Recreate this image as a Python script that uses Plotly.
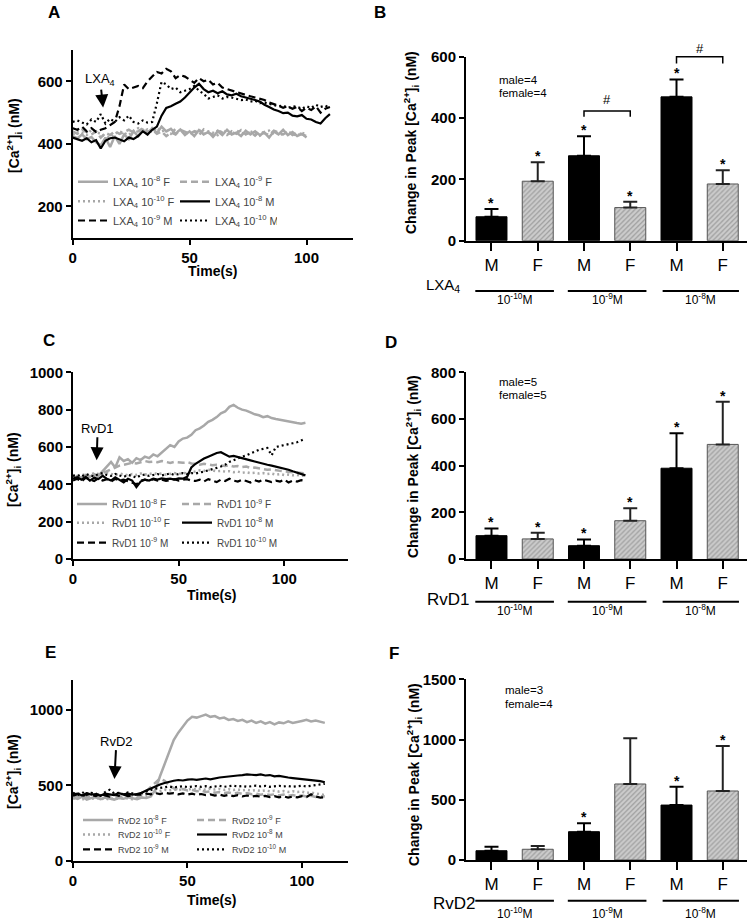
import plotly.graph_objects as go

W, H = 749, 922
FONT = "Liberation Sans, Arial, Helvetica, sans-serif"

# ---------------- Panel A: LXA4 time courses ----------------
tA_F = list(range(0, 101, 2))
tA_M = list(range(0, 111, 2))
A_F8 = [425, 418, 430, 415, 422, 405, 395, 420, 390, 425, 400, 430, 415, 440, 425, 445, 430, 450, 435, 455,
        440, 448, 432, 446, 428, 440, 425, 444, 430, 438, 422, 440, 428, 445, 430, 436, 425, 442, 430, 440,
        428, 436, 420, 440, 430, 445, 428, 438, 425, 432, 420]
A_F9 = [440, 432, 445, 438, 430, 440, 420, 435, 428, 440, 432, 438, 445, 436, 440, 450, 438, 446, 432, 440,
        425, 436, 430, 445, 438, 432, 440, 428, 446, 435, 430, 442, 436, 428, 440, 432, 444, 430, 438, 426,
        440, 434, 428, 442, 436, 430, 440, 428, 436, 430, 425]
A_F10 = [430, 440, 435, 428, 445, 438, 430, 425, 420, 432, 440, 435, 428, 442, 450, 440, 446, 438, 452, 440,
         445, 432, 448, 436, 440, 430, 438, 445, 432, 440, 436, 428, 444, 438, 430, 442, 436, 430, 440, 434,
         426, 438, 442, 430, 436, 428, 440, 432, 426, 436, 430]
A_M8 = [420, 415, 410, 418, 405, 412, 385, 410, 418, 420, 415, 408, 420, 415, 425, 440, 430, 445, 455, 490,
        515, 520, 528, 535, 548, 565, 580, 592, 575, 565, 570, 562, 568, 558, 555, 560, 552, 548, 545, 540,
        535, 525, 518, 510, 505, 498, 500, 490, 488, 492, 480, 478, 470, 465, 482, 495]
A_M9 = [450, 445, 455, 440, 450, 438, 445, 450, 460, 470, 520, 590, 575, 580, 585, 578, 600, 615, 630, 625,
        640, 632, 610, 620, 615, 605, 595, 610, 600, 605, 590, 595, 580, 575, 570, 565, 560, 555, 552, 548,
        545, 540, 532, 528, 522, 515, 520, 512, 518, 505, 515, 508, 520, 500, 512, 518]
A_M10 = [470, 475, 468, 462, 478, 470, 495, 465, 480, 470, 485, 475, 490, 470, 465, 475, 468, 470, 530, 598,
         590, 575, 580, 565, 570, 575, 585, 570, 560, 545, 550, 555, 545, 550, 548, 545, 540, 542, 535, 538,
         530, 532, 528, 525, 520, 522, 515, 520, 518, 512, 520, 515, 525, 518, 522, 515]

# ---------------- Panel C: RvD1 time courses ----------------
tC = list(range(0, 111, 2))
C_F8 = [430, 445, 435, 450, 440, 455, 445, 470, 500, 520, 490, 545, 525, 535, 515, 540, 530, 548, 540, 560,
        550, 570, 590, 610, 600, 630, 645, 650, 665, 690, 700, 715, 735, 745, 760, 780, 790, 815, 825, 810,
        800, 795, 785, 775, 770, 760, 765, 755, 750, 745, 740, 735, 730, 728, 725, 730]
C_F9 = [440, 430, 445, 435, 440, 445, 450, 460, 470, 480, 490, 500, 505, 510, 515, 512, 520, 525, 520, 522,
        518, 525, 520, 515, 520, 518, 515, 520, 512, 510, 505, 510, 508, 502, 505, 500, 498, 502, 495, 498,
        492, 495, 488, 490, 485, 482, 478, 480, 475, 472, 470, 468, 465, 462, 460, 458]
C_F10 = [450, 445, 455, 448, 452, 460, 455, 450, 462, 455, 450, 458, 452, 448, 455, 450, 458, 452, 455, 460,
         455, 458, 452, 456, 460, 455, 462, 458, 465, 470, 475, 472, 478, 475, 470, 472, 468, 470, 465, 468,
         462, 465, 460, 462, 458, 460, 455, 458, 452, 455, 450, 452, 448, 450, 446, 448]
C_M8 = [430, 438, 425, 440, 420, 435, 428, 445, 430, 420, 438, 425, 410, 430, 420, 385, 415, 425, 420, 430,
        425, 432, 428, 430, 425, 432, 430, 440, 490, 510, 525, 538, 548, 560, 568, 572, 560, 548, 552, 545,
        538, 535, 528, 522, 515, 510, 505, 500, 495, 490, 485, 478, 470, 462, 455, 448]
C_M9 = [420, 430, 415, 435, 425, 418, 432, 420, 428, 415, 430, 420, 425, 418, 410, 400, 420, 425, 418, 428,
        420, 425, 418, 422, 428, 420, 425, 428, 420, 418, 425, 415, 428, 420, 412, 425, 418, 430, 420, 415,
        425, 418, 410, 422, 415, 425, 418, 412, 420, 415, 425, 410, 420, 415, 422, 418]
C_M10 = [445, 450, 440, 455, 448, 442, 455, 460, 450, 445, 455, 448, 440, 450, 445, 435, 448, 452, 445, 450,
         455, 448, 452, 458, 450, 455, 460, 455, 460, 458, 462, 468, 475, 480, 488, 495, 505, 520, 530, 540,
         548, 555, 565, 578, 585, 590, 595, 555, 600, 605, 612, 615, 620, 625, 635, 645]

# ---------------- Panel E: RvD2 time courses ----------------
tE = list(range(0, 111, 2))
E_F8 = [420, 410, 425, 405, 415, 420, 408, 418, 412, 405, 415, 410, 420, 412, 408, 418, 415, 425, 470, 560,
        640, 730, 800, 850, 890, 930, 955, 950, 960, 970, 955, 960, 945, 950, 935, 940, 928, 935, 920, 930,
        915, 925, 910, 920, 905, 918, 912, 925, 915, 920, 928, 935, 925, 930, 920, 915]
E_F9 = [430, 425, 435, 420, 430, 425, 418, 430, 425, 420, 428, 422, 430, 425, 420, 440, 460, 490, 520, 545,
        530, 500, 480, 470, 475, 465, 470, 460, 465, 455, 460, 450, 455, 448, 452, 445, 450, 442, 448, 440,
        445, 438, 442, 435, 440, 432, 438, 430, 435, 428, 432, 425, 430, 422, 428, 425]
E_F10 = [410, 420, 405, 415, 410, 418, 408, 412, 405, 415, 410, 418, 412, 408, 415, 420, 430, 445, 455, 460,
         470, 465, 472, 468, 475, 470, 478, 472, 475, 470, 478, 472, 476, 470, 474, 468, 472, 466, 470, 465,
         468, 462, 466, 460, 464, 458, 462, 456, 460, 455, 458, 450, 452, 445, 440, 435]
E_M8 = [440, 445, 432, 448, 438, 442, 430, 445, 440, 435, 448, 440, 445, 438, 442, 450, 465, 480, 495, 505,
        515, 525, 530, 535, 532, 538, 540, 536, 542, 545, 540, 548, 552, 555, 560, 562, 565, 568, 572, 570,
        568, 572, 565, 568, 560, 562, 555, 552, 548, 545, 540, 538, 535, 530, 528, 520]
E_M9 = [430, 440, 425, 445, 435, 428, 445, 432, 425, 440, 430, 438, 428, 435, 440, 438, 445, 440, 448, 442,
        450, 445, 448, 440, 446, 438, 444, 436, 442, 435, 440, 432, 438, 430, 436, 428, 434, 426, 432, 425,
        430, 424, 430, 422, 428, 420, 426, 418, 425, 420, 428, 422, 440, 425, 418, 420]
E_M10 = [450, 440, 455, 435, 450, 445, 430, 455, 470, 445, 450, 440, 452, 445, 440, 450, 460, 470, 478, 482,
         488, 492, 486, 490, 494, 488, 492, 495, 490, 494, 488, 492, 496, 490, 494, 497, 492, 495, 490, 494,
         498, 492, 496, 490, 494, 497, 492, 495, 490, 494, 497, 492, 496, 500, 505, 510]

# ---------------- Bar panels (mean, SEM) ----------------
bar_ticktext = ["M", "F", "M", "F", "M", "F"]
conc_labels = ["10<sup>-10</sup>M", "10<sup>-9</sup>M", "10<sup>-8</sup>M"]
B_M = [78, 277, 469];  B_Merr = [25, 64, 57]
B_F = [194, 108, 185]; B_Ferr = [62, 19, 45]
B_Mstar = [True, True, True]; B_Fstar = [True, True, True]
D_M = [100, 57, 389];  D_Merr = [31, 27, 150]
D_F = [86, 164, 491];  D_Ferr = [27, 53, 183]
D_Mstar = [True, True, True]; D_Fstar = [True, True, True]
F_M = [77, 235, 456];  F_Merr = [33, 70, 152]
F_F = [89, 631, 573];  F_Ferr = [27, 379, 373]
F_Mstar = [False, True, True]; F_Fstar = [False, False, True]
# significance brackets in panel B: (left bar, right bar, top, tick end, '#' level)
B_brackets = [(2, 3, 423, 404, 459), (4, 5, 600, 578, 627)]

# ---------------- helpers ----------------
def PX(x):
    return x / W

def PY(y):
    return 1 - y / H

GRAY = "#a8a8a8"
BLACK = "#000000"

fig = go.Figure()

line_panels = [
    ("A", "x", "y", "LXA<sub>4</sub>", (tA_F, tA_M), [A_F8, A_F9, A_F10, A_M8, A_M9, A_M10], 11,
     [181.7, 201.3, 220.5], 73, 57),
    ("C", "x3", "y3", "RvD1", (tC, tC), [C_F8, C_F9, C_F10, C_M8, C_M9, C_M10], 10,
     [504, 522.7, 542.7], 72, 60),
    ("E", "x5", "y5", "RvD2", (tE, tE), [E_F8, E_F9, E_F10, E_M8, E_M9, E_M10], 9,
     [820, 834.5, 849.3], 78, 69),
]
styles = [
    ("10<sup>-8</sup> F", GRAY, "solid", 2.5),
    ("10<sup>-9</sup> F", GRAY, "7px,4px", 2.5),
    ("10<sup>-10</sup> F", GRAY, "2px,3px", 2.5),
    ("10<sup>-8</sup> M", BLACK, "solid", 2.2),
    ("10<sup>-9</sup> M", BLACK, "7px,4px", 2.2),
    ("10<sup>-10</sup> M", BLACK, "2px,3px", 2.2),
]
legend_layouts = {}
lcount = 0
for (pname, xa, ya, comp, (tF, tM), series, lfs, rows, lx, ew) in line_panels:
    row_legends = []
    for r in range(3):
        lcount += 1
        key = "legend" if lcount == 1 else "legend%d" % lcount
        row_legends.append(key)
        legend_layouts[key] = dict(
            orientation="h", x=PX(lx), y=PY(rows[r]), xanchor="left", yanchor="middle",
            bgcolor="rgba(0,0,0,0)", borderwidth=0,
            font=dict(family=FONT, size=lfs, color="#444444"),
            entrywidth=ew, entrywidthmode="pixels", itemwidth=30, traceorder="normal",
        )
    for i, (lab, col, dash, lw) in enumerate(styles):
        t = tF if i < 3 else tM
        fig.add_trace(go.Scatter(
            x=t, y=series[i], mode="lines", name=comp + " " + lab,
            line=dict(color=col, dash=dash, width=lw),
            xaxis=xa, yaxis=ya, legend=row_legends[i // 2], showlegend=True,
            hoverinfo="skip",
        ))

bar_panels = [
    ("B", "x2", "y2", B_M, B_Merr, B_F, B_Ferr, B_Mstar, B_Fstar),
    ("D", "x4", "y4", D_M, D_Merr, D_F, D_Ferr, D_Mstar, D_Fstar),
    ("F", "x6", "y6", F_M, F_Merr, F_F, F_Ferr, F_Mstar, F_Fstar),
]
annotations = []
for (pname, xa, ya, mv, me, fv, fe, ms, fs) in bar_panels:
    fig.add_trace(go.Bar(
        x=[0, 2, 4], y=mv, width=0.67, xaxis=xa, yaxis=ya, showlegend=False,
        marker=dict(color="black", line=dict(color="black", width=1)),
        error_y=dict(type="data", symmetric=False, array=me, arrayminus=[0, 0, 0],
                     color="black", thickness=2, width=7),
        hoverinfo="skip",
    ))
    fig.add_trace(go.Bar(
        x=[1, 3, 5], y=fv, width=0.67, xaxis=xa, yaxis=ya, showlegend=False,
        marker=dict(color="#c4c4c4", line=dict(color="#555555", width=1),
                    pattern=dict(shape="/", fgcolor="#6a6a6a", bgcolor="#cdcdcd", size=3.5, solidity=0.35)),
        error_y=dict(type="data", symmetric=False, array=fe, arrayminus=[0, 0, 0],
                     color="#222222", thickness=2, width=7),
        hoverinfo="skip",
    ))
    for k in range(3):
        for (xv, v, e, s) in ((2 * k, mv[k], me[k], ms[k]), (2 * k + 1, fv[k], fe[k], fs[k])):
            if s:
                annotations.append(dict(x=xv, y=v + e, xref=xa, yref=ya, text="*", showarrow=False,
                                        yanchor="bottom", yshift=-4,
                                        font=dict(family=FONT, size=14, color="black", weight="bold")))

# ---------------- axes ----------------
base = dict(showline=True, linecolor="black", linewidth=2, ticks="outside", ticklen=5, tickwidth=2,
            tickcolor="black", showgrid=False, zeroline=False, fixedrange=True, automargin=False,
            tickfont=dict(family=FONT, size=15, color="black", weight="bold"))
line_x = dict(base, ticklabelstandoff=0)

def xdom(a, b):
    return [PX(a), PX(b)]

def ydom(top, bottom):
    return [PY(bottom), PY(top)]

BX0, BX1 = 466, 747
XR = (-0.551, 5.524)
bar_x = dict(base, range=list(XR), tickvals=[0, 1, 2, 3, 4, 5], ticktext=bar_ticktext, ticklen=8,
             ticklabelstandoff=0, tickfont=dict(family=FONT, size=17, color="black"))

layout_axes = dict(
    xaxis=dict(line_x, domain=xdom(72.7, 353.3), range=[0, 120], tickvals=[0, 50, 100], anchor="y"),
    yaxis=dict(base, domain=ydom(50, 237.7), range=[100, 700], tickvals=[200, 400, 600], anchor="x"),
    xaxis2=dict(bar_x, domain=xdom(BX0, BX1), anchor="y2"),
    yaxis2=dict(base, domain=ydom(56.7, 240.7), range=[0, 600], tickvals=[0, 200, 400, 600], anchor="x2"),
    xaxis3=dict(line_x, domain=xdom(73, 347.7), range=[0, 130], tickvals=[0, 50, 100], anchor="y3"),
    yaxis3=dict(base, domain=ydom(372.3, 559), range=[0, 1000], tickvals=[0, 200, 400, 600, 800, 1000], anchor="x3"),
    xaxis4=dict(bar_x, domain=xdom(BX0, BX1), anchor="y4"),
    yaxis4=dict(base, domain=ydom(372.3, 559), range=[0, 800], tickvals=[0, 200, 400, 600, 800], anchor="x4"),
    xaxis5=dict(line_x, domain=xdom(73, 347.7), range=[0, 120], tickvals=[0, 50, 100], anchor="y5"),
    yaxis5=dict(base, domain=ydom(680, 860.5), range=[0, 1200], tickvals=[0, 500, 1000], anchor="x5"),
    xaxis6=dict(bar_x, domain=xdom(BX0, BX1), anchor="y6"),
    yaxis6=dict(base, domain=ydom(679.3, 860), range=[0, 1500], tickvals=[0, 500, 1000, 1500], anchor="x6"),
)

def txt(xp, yp, text, size, bold=False, angle=0, xanchor="center", color="black"):
    f = dict(family=FONT, size=size, color=color)
    if bold:
        f["weight"] = "bold"
    return dict(x=PX(xp), y=PY(yp), xref="paper", yref="paper", text=text, showarrow=False,
                textangle=angle, xanchor=xanchor, yanchor="middle", font=f)

# panel letters
for (L, xp, yp) in [("A", 54, 13), ("B", 380, 12.5), ("C", 49, 340), ("D", 391, 342), ("E", 50, 652), ("F", 394, 653)]:
    annotations.append(txt(xp, yp, L, 17, bold=True))

# axis titles
ca = "[Ca<sup>2+</sup>]<sub>i</sub> (nM)"
chg = "Change in Peak [Ca<sup>2+</sup>]<sub>i</sub> (nM)"
for (xp, yp) in [(14, 136), (13, 470), (13, 772)]:
    annotations.append(txt(xp, yp, ca, 14, bold=True, angle=-90))
for (xp, yp) in [(411, 143), (413, 466), (414, 775)]:
    annotations.append(txt(xp, yp, chg, 14, bold=True, angle=-90))
for (xp, yp) in [(213, 271), (211.7, 595), (211.7, 900)]:
    annotations.append(txt(xp, yp, "Time(s)", 14, bold=True))

# stimulus arrows
for (xa, ya, tx, yv, ax, ay, label) in [("x", "y", 13, 516, -3, -28, "LXA<sub>4</sub>"),
                                         ("x3", "y3", 11.2, 529, 1, -32, "RvD1"),
                                         ("x5", "y5", 18.1, 541, 2, -38, "RvD2")]:
    annotations.append(dict(x=tx, y=yv, xref=xa, yref=ya, text=label, showarrow=True, ax=ax, ay=ay,
                            arrowhead=2, arrowsize=1.3, arrowwidth=2, arrowcolor="black", standoff=0,
                            font=dict(family=FONT, size=13, color="black")))

# n labels
for (xp, y1, y2, m, f) in [(497, 80, 92.5, "male=4", "female=4"), (497, 382, 395, "male=5", "female=5"),
                           (503, 690, 704, "male=3", "female=4")]:
    annotations.append(txt(xp, y1, m, 11.5, xanchor="left"))
    annotations.append(txt(xp, y2, f, 11.5, xanchor="left"))

# group rows under bar panels
def bar_xpx(v):
    return BX0 + (v - XR[0]) / (XR[1] - XR[0]) * (BX1 - BX0)

shapes = []
group_spans = [(-0.35, 1.35), (1.65, 3.35), (3.7, 5.35)]
for (comp, cx, cy, size, line_y, conc_y) in [("LXA<sub>4</sub>", 443, 285, 15, 291, 299),
                                             ("RvD1", 448.5, 599, 17, 601.7, 610),
                                             ("RvD2", 455, 903, 17, 900.7, 913)]:
    annotations.append(txt(cx, cy, comp, size))
    for g, (a, b) in enumerate(group_spans):
        shapes.append(dict(type="line", xref="paper", yref="paper", x0=PX(bar_xpx(a)), x1=PX(bar_xpx(b)),
                           y0=PY(line_y), y1=PY(line_y), line=dict(color="black", width=2)))
        annotations.append(txt(bar_xpx((a + b) / 2), conc_y, conc_labels[g], 12))

# significance brackets (panel B), drawn through the panel's own scales
B_TOP, B_BOT, B_MAX = 56.7, 240.7, 600.0

def dxf(v):
    return (v - XR[0]) / (XR[1] - XR[0])

def b_ypx(v):
    return B_BOT - v / B_MAX * (B_BOT - B_TOP)

for (x1, x2, ytop, ybot, yhash) in B_brackets:
    shapes.append(dict(type="path", xref="x2 domain", yref="y2 domain",
                       path="M %f,%f L %f,%f L %f,%f L %f,%f" % (dxf(x1), ybot / B_MAX, dxf(x1), ytop / B_MAX,
                                                               dxf(x2), ytop / B_MAX, dxf(x2), ybot / B_MAX),
                       line=dict(color="black", width=1.5)))
    annotations.append(txt(bar_xpx((x1 + x2) / 2), b_ypx(yhash), "#", 13))

fig.update_layout(
    width=W, height=H, margin=dict(l=0, r=0, t=0, b=0, pad=0, autoexpand=False),
    paper_bgcolor="white", plot_bgcolor="white",
    barmode="overlay", font=dict(family=FONT, color="black"),
    annotations=annotations, shapes=shapes, hovermode=False,
    **layout_axes, **legend_layouts,
)
fig.write_html("out.html", config={"displayModeBar": False, "staticPlot": True},
               post_script="document.body.style.margin='0px';document.body.style.padding='0px';")
